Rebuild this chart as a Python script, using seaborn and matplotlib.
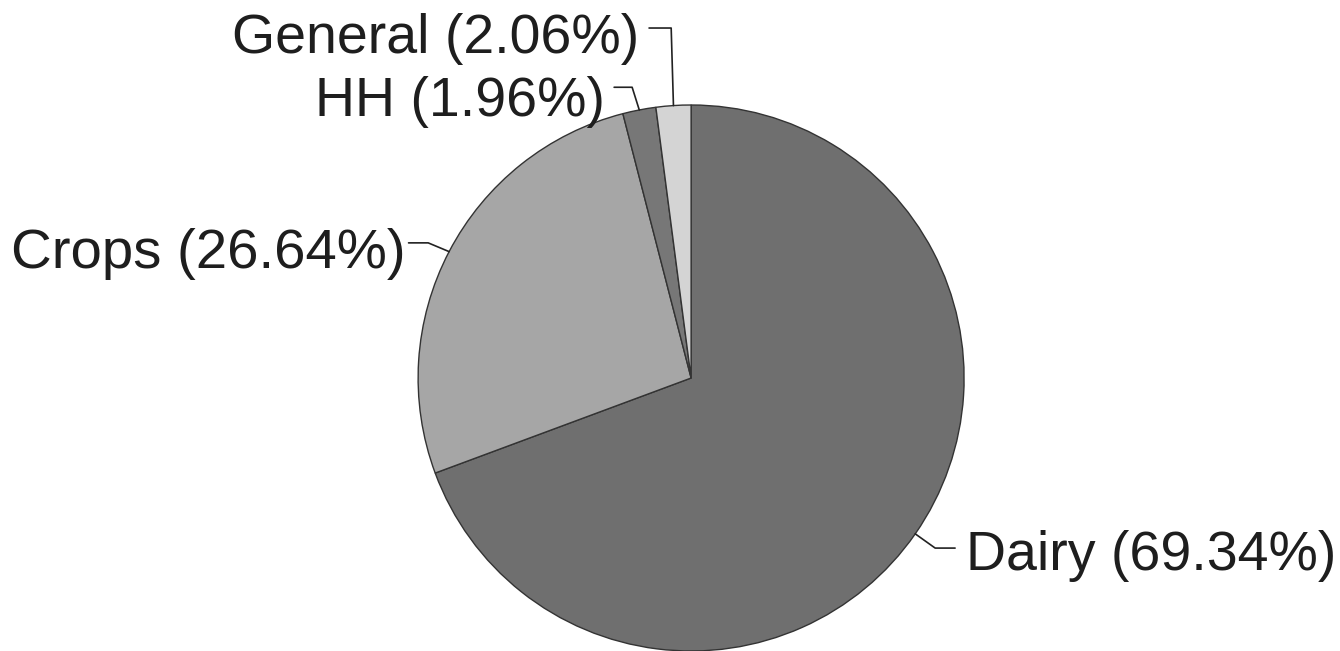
import numpy as np
import matplotlib
matplotlib.use("Agg")
import matplotlib.pyplot as plt
import seaborn as sns

categories = ["Dairy", "Crops", "HH", "General"]
shares = [69.34, 26.64, 1.96, 2.06]
colors = ["#6f6f6f", "#a6a6a6", "#777777", "#d4d4d4"]

sns.set_theme(style="white")
plt.rcParams["font.family"] = ["Liberation Sans", "DejaVu Sans"]

fig = plt.figure(figsize=(13.4, 6.51), dpi=100)
ax = fig.add_axes([0.312, 0.0, 0.4075, 0.8387])
wedges, _ = ax.pie(shares, colors=colors, startangle=90, counterclock=False,
                   wedgeprops=dict(edgecolor="#333333", linewidth=1.0))
ax.set_xlim(-1, 1)
ax.set_ylim(-1, 1)
ax.set_aspect("equal")
ax.axis("off")

# label layout: (elbow points list, text xy, ha, fontsize)
layout = {
    "General": ([(-0.073, 1.282), (-0.154, 1.282)], (-0.19, 1.243), "right", 40),
    "HH": ([(-0.216, 1.065), (-0.282, 1.065)], (-0.315, 1.01), "right", 40),
    "Crops": ([(-0.963, 0.495), (-1.035, 0.495)], (-1.045, 0.455), "right", 40.6),
    "Dairy": ([(0.894, -0.623), (0.967, -0.623)], (1.008, -0.652), "left", 40),
}

for w, cat, val in zip(wedges, categories, shares):
    mid = np.deg2rad((w.theta1 + w.theta2) / 2)
    anchor = (np.cos(mid), np.sin(mid))
    pts, txy, ha, fs = layout[cat]
    xs = [anchor[0]] + [p[0] for p in pts]
    ys = [anchor[1]] + [p[1] for p in pts]
    ax.plot(xs, ys, color="#222222", lw=1.2, clip_on=False)
    ax.text(txy[0], txy[1], f"{cat} ({val:.2f}%)", ha=ha, va="center",
            fontsize=fs, color="#1e1e1e", clip_on=False)

fig.savefig("out.png", dpi=100, facecolor="white")
